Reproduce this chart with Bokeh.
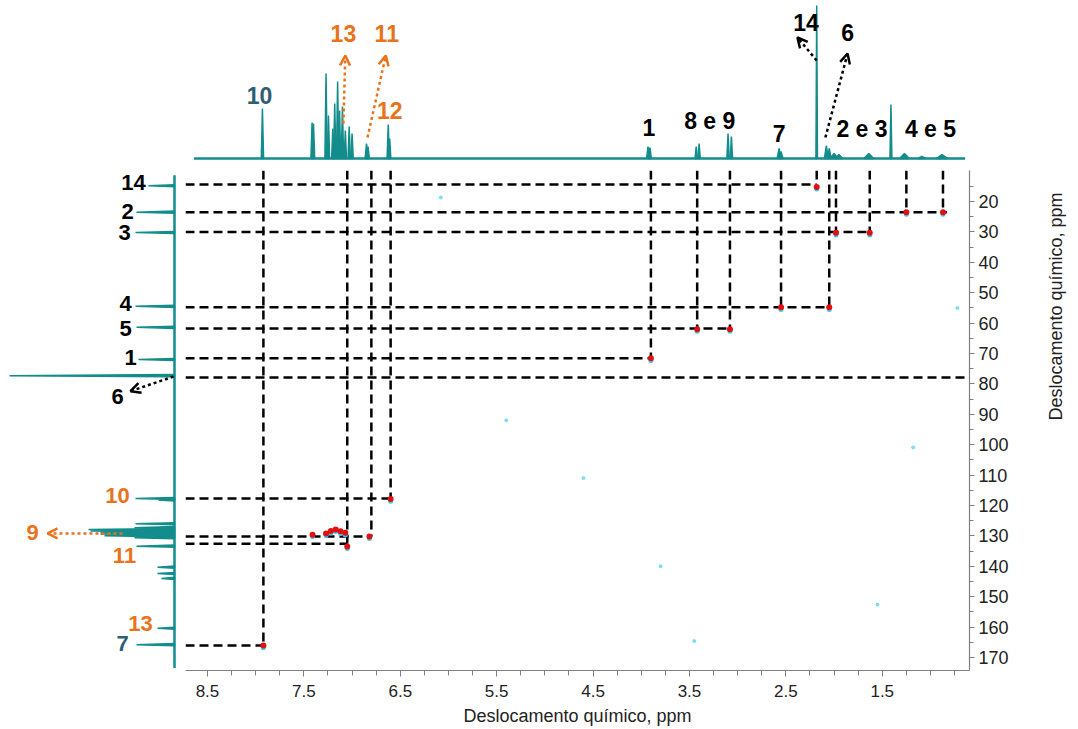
import math
from bokeh.plotting import figure
from bokeh.layouts import row, column
from bokeh.models import Range1d, Spacer, Label, Arrow, OpenHead, FixedTicker
from bokeh.embed import file_html
from bokeh.resources import INLINE

TEAL = "#138C8C"
ORANGE = "#E8731C"
DARKTEAL = "#2F5D73"
FONT = "Liberation Sans"

# ---------------- data ----------------
# 1H spectrum (top): peak position (ppm), height (a.u.), half width (ppm)
h_peak_ppm = [7.93, 7.415, 7.40, 7.27, 7.245, 7.20, 7.18, 7.15, 7.13, 7.10, 7.07, 7.03, 7.00, 6.85, 6.835,
              6.625, 6.61, 3.93, 3.91, 3.43, 3.40, 3.10, 3.065, 2.57, 2.55, 2.18, 2.08, 2.05, 2.00, 1.95,
              1.64, 1.41, 1.27, 1.09, 0.88]
h_peak_int = [50, 36, 35, 85, 43, 30, 55, 77, 48, 52, 28, 32, 25, 15, 12,
              34, 20, 12, 11, 12, 15, 25, 22, 10, 7, 153, 13, 10, 5, 4,
              5, 54, 5, 2, 4]
h_peak_w = [0.012, 0.012, 0.012, 0.012, 0.012, 0.012, 0.012, 0.012, 0.012, 0.012, 0.012, 0.012, 0.012, 0.015, 0.015,
            0.012, 0.012, 0.015, 0.015, 0.012, 0.012, 0.012, 0.012, 0.02, 0.02, 0.008, 0.02, 0.02, 0.04, 0.04,
            0.05, 0.01, 0.05, 0.04, 0.06]
h_base = [8.64, 0.64]

# 13C spectrum (left): peak position (ppm), intensity (a.u.)
c_peak_ppm = [14.8, 23.5, 30.2, 54.5, 61.4, 72.0, 77.3, 117.7, 118.2, 126.0, 127.3, 127.9, 128.4, 128.9,
              129.4, 130.0, 130.6, 133.4, 140.3, 142.4, 144.0, 160.4, 165.8]
c_peak_int = [26, 38, 39, 39, 38, 36, 165, 39, 16, 39, 40, 86, 84, 74,
              74, 70, 40, 38, 17, 17, 13, 17, 38]
c_base = [11.4, 173.5]

# correlation lines: horizontal (13C ppm -> end at 1H ppm), vertical (1H ppm -> end at 13C ppm)
row_c = [14.4, 23.5, 30.0, 54.8, 61.8, 71.6, 77.9, 117.7, 130.2, 132.6, 166.1]
row_h_end = [2.18, 0.83, 1.63, 2.05, 3.08, 3.90, 0.595, 6.60, 6.80, 7.05, 7.92]
col_h = [7.92, 7.05, 6.80, 6.60, 3.90, 3.42, 3.08, 2.55, 2.18, 2.05, 1.98, 1.63, 1.25, 0.87]
col_c_end = [166.1, 132.6, 130.2, 117.7, 71.6, 61.8, 61.8, 54.8, 14.4, 54.8, 30.0, 30.0, 23.5, 23.5]

# cross peaks (1H ppm, 13C ppm)
xpk_h = [2.18, 1.25, 0.87, 1.63, 1.98, 2.55, 2.05, 3.42, 3.08, 3.90, 6.60, 6.82, 7.41, 7.27, 7.22, 7.17,
         7.12, 7.07, 7.05, 7.92]
xpk_c = [15.2, 23.5, 23.5, 30.3, 30.3, 54.8, 54.8, 62.0, 62.0, 71.6, 117.9, 130.2, 129.6, 129.2, 128.4,
         127.9, 128.5, 129.0, 133.5, 166.1]
noise_h = [6.08, 1.18, 3.45, 0.72, 1.55, 4.60, 3.80, 5.40]
noise_c = [18.7, 100.9, 164.6, 55.0, 152.6, 111.0, 140.0, 92.0]

# ---------------- figures ----------------
XR = Range1d(8.728, 0.595)
YR = Range1d(174.3, 9.8)

main = figure(frame_width=784, frame_height=500, x_range=XR, y_range=YR,
              y_axis_location="right", output_backend="svg", toolbar_location=None,
              min_border_left=0, min_border_top=0, min_border_right=0, min_border_bottom=57)
main.outline_line_color = None
main.grid.visible = False
main.background_fill_color = "white"

for ax in (main.xaxis[0], main.yaxis[0]):
    ax.axis_line_color = "#808080"
    ax.axis_line_width = 1.2
    ax.major_tick_line_color = "#808080"
    ax.minor_tick_line_color = "#808080"
    ax.major_tick_in = 0
    ax.minor_tick_in = 0
    ax.major_label_text_font = FONT
    ax.major_label_text_color = "#222222"
    ax.axis_label_text_font = FONT
    ax.axis_label_text_font_style = "normal"
    ax.axis_label_text_color = "#222222"

xa = main.xaxis[0]
xa.ticker = FixedTicker(ticks=[8.5, 7.5, 6.5, 5.5, 4.5, 3.5, 2.5, 1.5],
                        minor_ticks=[8.75 - 0.25 * i for i in range(33)])
xa.major_tick_out = 6
xa.minor_tick_out = 5
xa.major_label_text_font_size = "17px"
xa.major_label_standoff = 8
xa.axis_label = "Deslocamento químico, ppm"
xa.axis_label_text_font_size = "18px"
xa.axis_label_standoff = 6

ya = main.yaxis[0]
ya.ticker = FixedTicker(ticks=list(range(20, 171, 10)), minor_ticks=list(range(15, 176, 5)))
ya.major_tick_out = 5
ya.minor_tick_out = 4
ya.major_label_text_font_size = "18px"
ya.major_label_standoff = 4
ya.axis_label = "Deslocamento químico, ppm"
ya.axis_label_text_font_size = "18px"
ya.axis_label_standoff = 44
try:
    ya.axis_label_orientation = math.pi / 2
except Exception:
    pass

# dashed correlation lines
main.segment(x0=[XR.start] * len(row_c), y0=row_c, x1=row_h_end, y1=row_c,
             line_color="black", line_width=2.5, line_dash="9 5")
main.segment(x0=col_h, y0=[YR.end] * len(col_h), x1=col_h, y1=col_c_end,
             line_color="black", line_width=2.5, line_dash="9 5")
# cross peaks
main.scatter(noise_h, noise_c, size=3, color="#55D0F0", alpha=0.7)
main.scatter(xpk_h, [c + 0.7 for c in xpk_c], size=5, color="#3CC8F0", line_color=None)
main.scatter(xpk_h, xpk_c, size=6, color="#E01010", line_color=None)

# top 1H spectrum
top = figure(frame_width=784, frame_height=170, x_range=XR, y_range=Range1d(-12, 158),
             output_backend="svg", toolbar_location=None, x_axis_type=None, y_axis_type=None,
             min_border_left=0, min_border_right=0, min_border_top=0, min_border_bottom=0)
top.outline_line_color = None
top.grid.visible = False
top.line(h_base, [0, 0], line_color=TEAL, line_width=2.5)
top.patches(xs=[[p - w, p, p + w] for p, w in zip(h_peak_ppm, h_peak_w)],
            ys=[[0, h, 0] for h in h_peak_int],
            fill_color=TEAL, line_color=TEAL, line_width=1.5)

def add_label(fig, x, y, text, color="black", size="22px"):
    fig.add_layout(Label(x=x, y=y, text=text, text_color=color, text_font=FONT,
                         text_font_size=size, text_font_style="bold",
                         text_align="center", text_baseline="middle"))

def add_arrow(fig, x0, y0, x1, y1, color="black"):
    fig.add_layout(Arrow(end=OpenHead(size=10, line_color=color, line_width=2.5),
                         x_start=x0, y_start=y0, x_end=x1, y_end=y1,
                         line_color=color, line_width=2.5, line_dash="3 3"))

top_labels = [(7.96, 63, "10", DARKTEAL), (7.09, 125, "13", ORANGE), (6.64, 125, "11", ORANGE),
              (6.61, 48, "12", ORANGE), (3.92, 31, "1", "black"), (3.29, 38, "8 e 9", "black"),
              (2.57, 25, "7", "black"), (2.29, 136, "14", "black"), (1.86, 126, "6", "black"),
              (1.71, 30, "2 e 3", "black"), (1.00, 30, "4 e 5", "black")]
for x, y, t, c in top_labels:
    add_label(top, x, y, t, c, "23px")
add_arrow(top, 7.09, 35, 7.07, 103, ORANGE)
add_arrow(top, 6.84, 21, 6.65, 103, ORANGE)
add_arrow(top, 2.18, 98, 2.38, 121)
add_arrow(top, 2.09, 21, 1.86, 105)

# left 13C spectrum
left = figure(frame_width=185, frame_height=500, x_range=Range1d(174, -11), y_range=YR,
              output_backend="svg", toolbar_location=None, x_axis_type=None, y_axis_type=None,
              min_border_left=0, min_border_right=0, min_border_top=0, min_border_bottom=57)
left.outline_line_color = None
left.grid.visible = False
left.line([0, 0], c_base, line_color=TEAL, line_width=2.5)
left.patches(xs=[[0, h, 0] for h in c_peak_int],
             ys=[[p - 0.35, p, p + 0.35] for p in c_peak_ppm],
             fill_color=TEAL, line_color=TEAL, line_width=1.5)

left_labels = [(41, 13.8, "14", "black"), (47, 23.3, "2", "black"), (50, 30.2, "3", "black"),
               (49, 53.6, "4", "black"), (49, 61.8, "5", "black"), (44, 71.3, "1", "black"),
               (57, 84.1, "6", "black"), (57, 116.7, "10", ORANGE), (142, 128.9, "9", ORANGE),
               (50, 136.4, "11", ORANGE), (34, 158.8, "13", ORANGE), (52, 165.4, "7", DARKTEAL)]
for x, y, t, c in left_labels:
    add_label(left, x, y, t, c, "22px")
add_arrow(left, 1, 77.6, 44, 82.4)
add_arrow(left, 52, 129.2, 127, 129.2, ORANGE)

layout = column(row(Spacer(width=185, height=170), top), row(left, main))
open("out.html", "w").write(file_html(layout, INLINE))
